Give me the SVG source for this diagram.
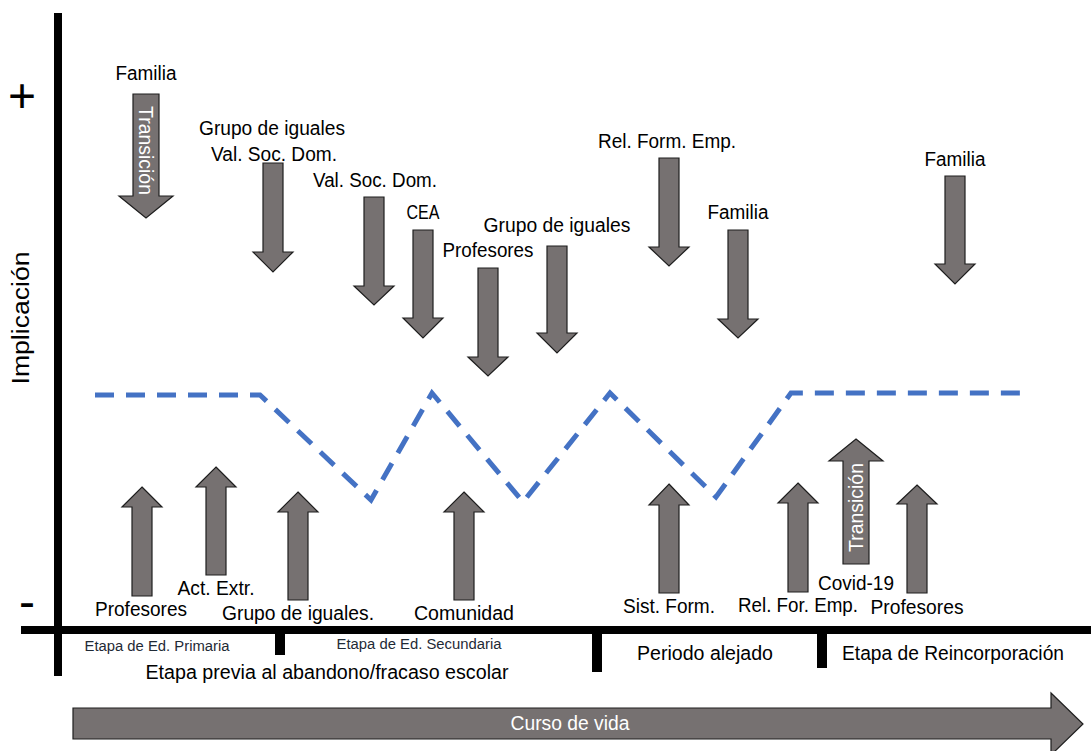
<svg xmlns="http://www.w3.org/2000/svg" width="1091" height="751" viewBox="0 0 1091 751">
  <style>
    .arr { fill: #767171; stroke: #1e1e1e; stroke-width: 1.2; stroke-linejoin: miter; }
    .axis { fill: #000; }
    .lbl { font-family: "Liberation Sans", Arial, sans-serif; font-size: 20px; fill: #000; text-anchor: middle; }
    .small { font-family: "Liberation Sans", Arial, sans-serif; font-size: 15.5px; fill: #1f2a36; text-anchor: middle; }
    .inner { font-family: "Liberation Sans", Arial, sans-serif; font-size: 20px; fill: #fff; text-anchor: middle; }
    .trend { fill: none; stroke: #4472C4; stroke-width: 5; stroke-dasharray: 19 12; }
  </style>
  <rect width="1091" height="751" fill="#fff"/>

  <!-- axes and stage ticks -->
  <g id="axes">
    <rect class="axis" x="54" y="13" width="8" height="663"/>
    <rect class="axis" x="21" y="626" width="1070" height="8"/>
    <rect class="axis" x="275" y="630" width="10" height="25"/>
    <rect class="axis" x="592" y="630" width="10" height="42"/>
    <rect class="axis" x="817" y="630" width="10" height="38"/>
    <text class="lbl" x="22" y="112" style="font-size:48px">+</text>
    <text class="lbl" x="27" y="618" style="font-size:48px">-</text>
    <text class="lbl" transform="translate(29,318) rotate(-90)" style="font-size:23px" textLength="133" lengthAdjust="spacingAndGlyphs">Implicación</text>
  </g>

  <!-- stage labels -->
  <g id="stages">
    <text class="small" x="157" y="651" textLength="145" lengthAdjust="spacingAndGlyphs">Etapa de Ed. Primaria</text>
    <text class="small" x="419" y="649" textLength="165" lengthAdjust="spacingAndGlyphs">Etapa de Ed. Secundaria</text>
    <text class="lbl" x="327" y="679" textLength="363" lengthAdjust="spacingAndGlyphs">Etapa previa al abandono/fracaso escolar</text>
    <text class="lbl" x="705" y="660" textLength="136" lengthAdjust="spacingAndGlyphs">Periodo alejado</text>
    <text class="lbl" x="953" y="660" textLength="222" lengthAdjust="spacingAndGlyphs">Etapa de Reincorporación</text>
  </g>

  <!-- life course arrow -->
  <g id="curso-de-vida">
    <polygon class="arr" points="73,708 1051,708 1051,693 1083,724 1051,755 1051,739 73,739"/>
    <text class="inner" x="570" y="730" textLength="119" lengthAdjust="spacingAndGlyphs">Curso de vida</text>
  </g>

  <!-- involvement trend -->
  <g id="connectors">
    <polyline class="trend" points="95,395 260,395 371,500 432,393 523,502 610,393 716,497 791,393 1028,393"/>
  </g>

  <!-- downward influences -->
  <g id="familia-1">
    <text class="lbl" x="146" y="80" textLength="61" lengthAdjust="spacingAndGlyphs">Familia</text>
    <polygon class="arr" points="133,94 159,94 159,196 173,196 146,218 119,196 133,196"/>
    <text class="inner" transform="translate(139,150.5) rotate(90)" textLength="89" lengthAdjust="spacingAndGlyphs">Transición</text>
  </g>
  <g id="grupo-iguales-1">
    <text class="lbl" x="272" y="135" textLength="146" lengthAdjust="spacingAndGlyphs">Grupo de iguales</text>
    <text class="lbl" x="274" y="161" textLength="126" lengthAdjust="spacingAndGlyphs">Val. Soc. Dom.</text>
    <polygon class="arr" points="263,163 283,163 283,252 293,252 273,272 253,252 263,252"/>
  </g>
  <g id="val-soc-dom">
    <text class="lbl" x="375" y="187" textLength="124" lengthAdjust="spacingAndGlyphs">Val. Soc. Dom.</text>
    <polygon class="arr" points="364,197 384,197 384,286 394,286 374,305 354,286 364,286"/>
  </g>
  <g id="cea">
    <text class="lbl" x="423" y="219" textLength="33" lengthAdjust="spacingAndGlyphs">CEA</text>
    <polygon class="arr" points="413,230 433,230 433,318 443,318 423,338 403,318 413,318"/>
  </g>
  <g id="profesores-1">
    <text class="lbl" x="488" y="257" textLength="91" lengthAdjust="spacingAndGlyphs">Profesores</text>
    <polygon class="arr" points="478,268 498,268 498,357 508,357 488,376 468,357 478,357"/>
  </g>
  <g id="grupo-iguales-2">
    <text class="lbl" x="557" y="232" textLength="147" lengthAdjust="spacingAndGlyphs">Grupo de iguales</text>
    <polygon class="arr" points="547,246 567,246 567,333 577,333 557,353 537,333 547,333"/>
  </g>
  <g id="rel-form-emp">
    <text class="lbl" x="667" y="148" textLength="138" lengthAdjust="spacingAndGlyphs">Rel. Form. Emp.</text>
    <polygon class="arr" points="659,158 679,158 679,247 689,247 669,266 649,247 659,247"/>
  </g>
  <g id="familia-2">
    <text class="lbl" x="738" y="219" textLength="61" lengthAdjust="spacingAndGlyphs">Familia</text>
    <polygon class="arr" points="728,230 748,230 748,319 758,319 738,338 718,319 728,319"/>
  </g>
  <g id="familia-3">
    <text class="lbl" x="955" y="166" textLength="61" lengthAdjust="spacingAndGlyphs">Familia</text>
    <polygon class="arr" points="945,176 965,176 965,264 975,264 955,284 935,264 945,264"/>
  </g>

  <!-- upward influences -->
  <g id="profesores-2">
    <polygon class="arr" points="142,487 162,507 152,507 152,596 132,596 132,507 122,507"/>
    <text class="lbl" x="141" y="616" textLength="92" lengthAdjust="spacingAndGlyphs">Profesores</text>
  </g>
  <g id="act-extr">
    <polygon class="arr" points="216,467 236,487 226,487 226,575 206,575 206,487 196,487"/>
    <text class="lbl" x="216" y="595" textLength="77" lengthAdjust="spacingAndGlyphs">Act. Extr.</text>
  </g>
  <g id="grupo-iguales-3">
    <polygon class="arr" points="298,492 318,512 308,512 308,600 288,600 288,512 278,512"/>
    <text class="lbl" x="298" y="620" textLength="152" lengthAdjust="spacingAndGlyphs">Grupo de iguales.</text>
  </g>
  <g id="comunidad">
    <polygon class="arr" points="464,492 484,512 474,512 474,600 454,600 454,512 444,512"/>
    <text class="lbl" x="464" y="620" textLength="100" lengthAdjust="spacingAndGlyphs">Comunidad</text>
  </g>
  <g id="sist-form">
    <polygon class="arr" points="669,484 689,505 679,505 679,593 659,593 659,505 649,505"/>
    <text class="lbl" x="669" y="613" textLength="92" lengthAdjust="spacingAndGlyphs">Sist. Form.</text>
  </g>
  <g id="rel-for-emp">
    <polygon class="arr" points="798,483 818,503 808,503 808,592 788,592 788,503 778,503"/>
    <text class="lbl" x="798" y="612" textLength="120" lengthAdjust="spacingAndGlyphs">Rel. For. Emp.</text>
  </g>
  <g id="covid-19">
    <polygon class="arr" points="856,439 883,461 869,461 869,564 843,564 843,461 829,461"/>
    <text class="inner" transform="translate(863,507.5) rotate(-90)" textLength="89" lengthAdjust="spacingAndGlyphs">Transición</text>
    <text class="lbl" x="856" y="590" textLength="76" lengthAdjust="spacingAndGlyphs">Covid-19</text>
  </g>
  <g id="profesores-3">
    <polygon class="arr" points="917,485 937,504 927,504 927,593 907,593 907,504 897,504"/>
    <text class="lbl" x="917" y="614" textLength="93" lengthAdjust="spacingAndGlyphs">Profesores</text>
  </g>
</svg>
